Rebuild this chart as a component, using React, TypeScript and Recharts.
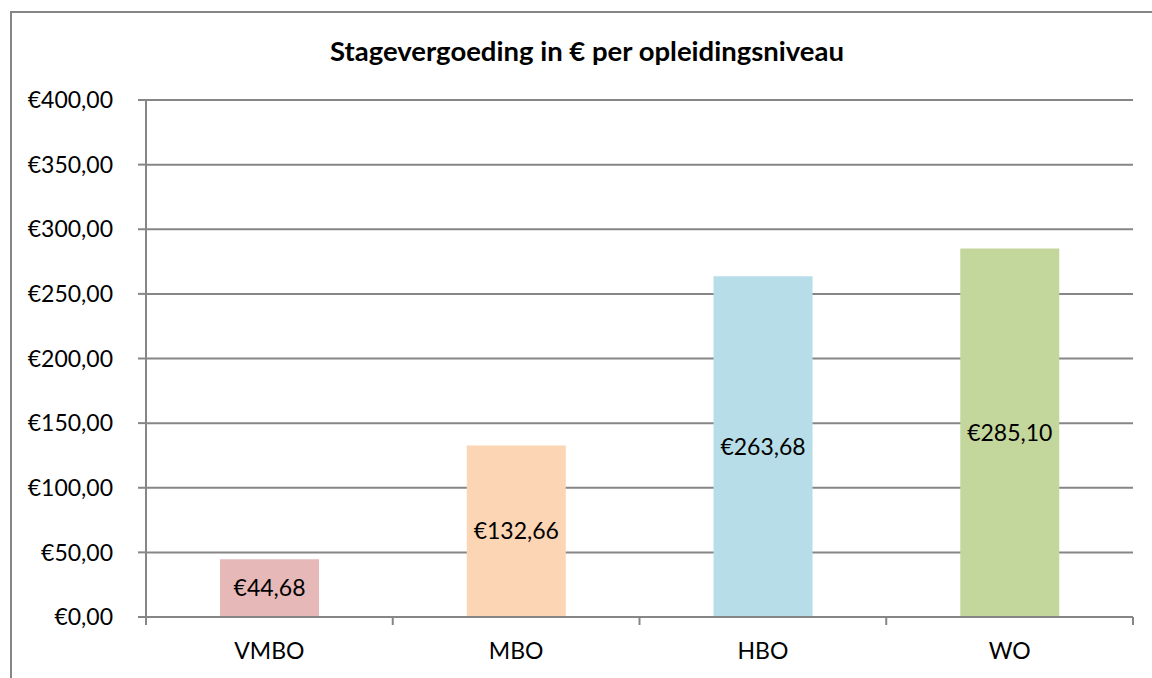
import React from 'react';
import { BarChart, Bar, XAxis, YAxis, CartesianGrid, Cell, LabelList } from 'recharts';

const categories = ['VMBO', 'MBO', 'HBO', 'WO'];
const values = [44.68, 132.66, 263.68, 285.1];
const barColors = ['#E6B9B8', '#FCD5B5', '#B7DEE8', '#C3D69B'];
const yTicks = [0, 50, 100, 150, 200, 250, 300, 350, 400];

const data = categories.map((name, i) => ({ name, value: values[i] }));

const euro = (v: number) =>
  '€' + v.toFixed(2).replace('.', ',');

const FONT = 'Lato, "Open Sans", sans-serif';
const GRAY = '#868686';

// category label plus tick marks on the band edges (Excel style)
const CategoryTick = (props: any) => {
  const { x, y, payload, index, visibleTicksCount } = props;
  const half = payload?.offset ?? 0;
  const last = index === (visibleTicksCount ?? categories.length) - 1;
  return (
    <g>
      <line x1={x - half} x2={x - half} y1={y} y2={y + 8} stroke={GRAY} strokeWidth={2} />
      {last && <line x1={x + half} x2={x + half} y1={y} y2={y + 8} stroke={GRAY} strokeWidth={2} />}
      <text x={x} y={y + 26} dy="0.71em" textAnchor="middle" fill="#000" fontSize={23} fontFamily={FONT}>
        {payload.value}
      </text>
    </g>
  );
};

const App: React.FC = () => {
  return (
    <div style={{ position: 'absolute', left: 0, top: 0, width: 1152, height: 678, background: '#fff', overflow: 'hidden' }}>
      {/* chart frame, cut off at right and bottom like in the screenshot */}
      <div
        style={{
          position: 'absolute', left: 10, top: 11, width: 1200, height: 700,
          borderLeft: `2px solid ${GRAY}`, borderTop: `2px solid ${GRAY}`,
        }}
      />
      <div
        style={{
          position: 'absolute', left: 10, width: 1154, top: 34, textAlign: 'center',
          fontFamily: FONT, fontWeight: 'bold', fontSize: 27.5, lineHeight: '34px', color: '#000',
        }}
      >
        Stagevergoeding in € per opleidingsniveau
      </div>
      <div style={{ position: 'absolute', left: 0, top: 0 }}>
        <BarChart
          width={1152}
          height={678}
          data={data}
          margin={{ top: 100, right: 19, bottom: 0, left: 0 }}
          barCategoryGap="30%"
        >
          <CartesianGrid vertical={false} stroke={GRAY} strokeWidth={2} />
          <XAxis
            dataKey="name"
            height={61}
            axisLine={{ stroke: GRAY, strokeWidth: 2 }}
            tickLine={false}
            tickSize={0}
            tickMargin={0}
            interval={0}
            tick={<CategoryTick />}
          />
          <YAxis
            width={146}
            domain={[0, 400]}
            ticks={yTicks}
            tickFormatter={euro}
            axisLine={{ stroke: GRAY, strokeWidth: 2 }}
            tickLine={{ stroke: GRAY, strokeWidth: 2 }}
            tickSize={8}
            tickMargin={25}
            tick={{ fill: '#000', fontSize: 23, fontFamily: FONT }}
          />
          <Bar dataKey="value" isAnimationActive={false}>
            {data.map((d, i) => (
              <Cell key={d.name} fill={barColors[i]} />
            ))}
            <LabelList
              dataKey="value"
              position="center"
              formatter={(v: any) => euro(Number(v))}
              style={{ fill: '#000', fontSize: 23, fontFamily: FONT }}
            />
          </Bar>
        </BarChart>
      </div>
    </div>
  );
};

export default App;
